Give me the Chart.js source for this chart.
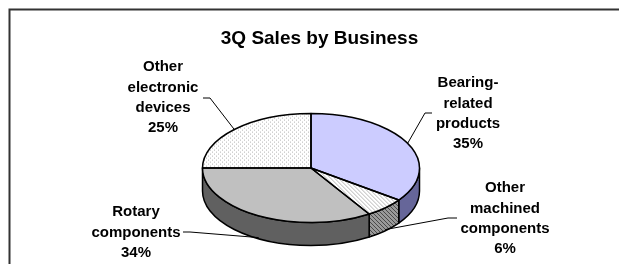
<!DOCTYPE html>
<html>
<head>
<meta charset="utf-8">
<script src="https://cdn.jsdelivr.net/npm/chart.js@4"></script>
<style>
  html, body { margin: 0; padding: 0; background: #fff; }
  #wrap { width: 619px; height: 264px; position: relative; }
</style>
</head>
<body>
<div id="wrap"><canvas id="myChartPie" width="619" height="264"></canvas></div>
<script>
const ctxp = document.getElementById('myChartPie');

// datos
const categorias = ['Bearing-related products', 'Other machined components', 'Rotary components', 'Other electronic devices'];
const lineasEtiqueta = [['Bearing-', 'related', 'products'], ['Other', 'machined', 'components'], ['Rotary', 'components'], ['Other', 'electronic', 'devices']];
const ventas = [35, 6, 34, 25];
const titulo = '3Q Sales by Business';

// estilo
const pie = { rx: 108.5, ry: 54.5, depth: 23 };
const FONT = '"Liberation Sans", Arial, sans-serif';
const posEtiqueta = [
    { x: 468, y: 83, lead: [[432, 113], [425, 113]] },
    { x: 505, y: 188, lead: [[457, 218], [448, 218]] },
    { x: 136, y: 212, lead: [[183, 232], [190, 232]] },
    { x: 163, y: 67, lead: [[203, 98], [210, 98]] }
];
const lineH = 20.4;

function patron(bg, fg, tipo, squash) {
    const c = document.createElement('canvas');
    c.width = 4; c.height = 4;
    const g = c.getContext('2d');
    g.fillStyle = bg; g.fillRect(0, 0, 4, 4);
    g.fillStyle = fg;
    if (tipo === 'dots') {
        g.fillRect(0, 0, 1, 1);
        g.fillRect(2, 2, 1, 1);
    } else {
        for (let i = 0; i < 4; i++) g.fillRect(i, i, 1, 1);
    }
    const p = g.createPattern(c, 'repeat');
    if (squash) p.setTransform(new DOMMatrix().scale(1, pie.rx / pie.ry));
    return p;
}

const colTop = ['#ccccff', patron('#ffffff', '#b8b8b8', 'hatch', true), '#c0c0c0', patron('#ffffff', '#b4b4b4', 'dots', true)];
const colSide = ['#666699', patron('#9a9a9a', '#4a4a4a', 'hatch', false), '#606060', '#bbbbbb'];

const pie3d = {
    id: 'pie3d',
    beforeDraw(chart) {
        const c = chart.ctx;
        c.save();
        c.strokeStyle = '#333';
        c.lineWidth = 2;
        c.strokeRect(9.5, 9.5, 700, 400);
        c.fillStyle = '#000';
        c.font = 'bold 19px ' + FONT;
        c.textAlign = 'center';
        c.textBaseline = 'middle';
        c.fillText(titulo, 319.5, 39);
        c.restore();
    },
    beforeDatasetsDraw(chart) {
        const c = chart.ctx;
        const arcs = chart.getDatasetMeta(0).data;
        c.save();
        c.lineWidth = 1.5;
        c.strokeStyle = '#000';
        c.lineJoin = 'round';
        arcs.forEach((a, i) => {
            const s = Math.max(a.startAngle, 0);
            const e = Math.min(a.endAngle, Math.PI);
            if (e <= s) return;
            c.beginPath();
            c.ellipse(a.x, a.y, pie.rx, pie.ry, 0, s, e);
            c.ellipse(a.x, a.y + pie.depth, pie.rx, pie.ry, 0, e, s, true);
            c.closePath();
            c.fillStyle = colSide[i];
            c.fill();
            c.stroke();
        });
        c.restore();
    },
    beforeDatasetDraw(chart) {
        const a = chart.getDatasetMeta(0).data[0];
        const c = chart.ctx;
        c.save();
        c.translate(a.x, a.y);
        c.scale(1, pie.ry / pie.rx);
        c.translate(-a.x, -a.y);
    },
    afterDatasetDraw(chart) {
        chart.ctx.restore();
    },
    afterDatasetsDraw(chart) {
        const c = chart.ctx;
        const arcs = chart.getDatasetMeta(0).data;
        const total = ventas.reduce((s, v) => s + v, 0);
        c.save();
        c.strokeStyle = '#000';
        c.lineWidth = 1.5;
        c.lineJoin = 'round';
        arcs.forEach(a => {
            c.beginPath();
            c.moveTo(a.x, a.y);
            c.ellipse(a.x, a.y, pie.rx, pie.ry, 0, a.startAngle, a.endAngle);
            c.closePath();
            c.stroke();
        });
        // etiquetas y lineas guia
        c.lineWidth = 1;
        c.font = 'bold 15px ' + FONT;
        c.textAlign = 'center';
        c.textBaseline = 'middle';
        c.fillStyle = '#000';
        arcs.forEach((a, i) => {
            const mid = (a.startAngle + a.endAngle) / 2;
            const px = a.x + pie.rx * Math.cos(mid);
            const py = a.y + pie.ry * Math.sin(mid) + (Math.sin(mid) > 0 ? pie.depth * 0.95 : 0);
            const p = posEtiqueta[i];
            c.beginPath();
            c.moveTo(p.lead[0][0], p.lead[0][1]);
            c.lineTo(p.lead[1][0], p.lead[1][1]);
            c.lineTo(px, py);
            c.stroke();
            const lineas = lineasEtiqueta[i].concat([Math.round(ventas[i] / total * 100) + '%']);
            lineas.forEach((t, k) => c.fillText(t, p.x, p.y + k * lineH));
        });
        c.restore();
    }
};

new Chart(ctxp, {
    type: 'pie',
    data: {
        labels: categorias,
        datasets: [{
            data: ventas,
            backgroundColor: colTop,
            borderWidth: 0,
            clip: false
        }]
    },
    options: {
        responsive: false,
        devicePixelRatio: 1,
        animation: false,
        events: [],
        radius: pie.rx,
        layout: { padding: { left: 3, right: 0, top: 72, bottom: 0 } },
        plugins: {
            legend: { display: false },
            title: { display: false },
            tooltip: { enabled: false }
        }
    },
    plugins: [pie3d]
});
</script>
</body>
</html>
